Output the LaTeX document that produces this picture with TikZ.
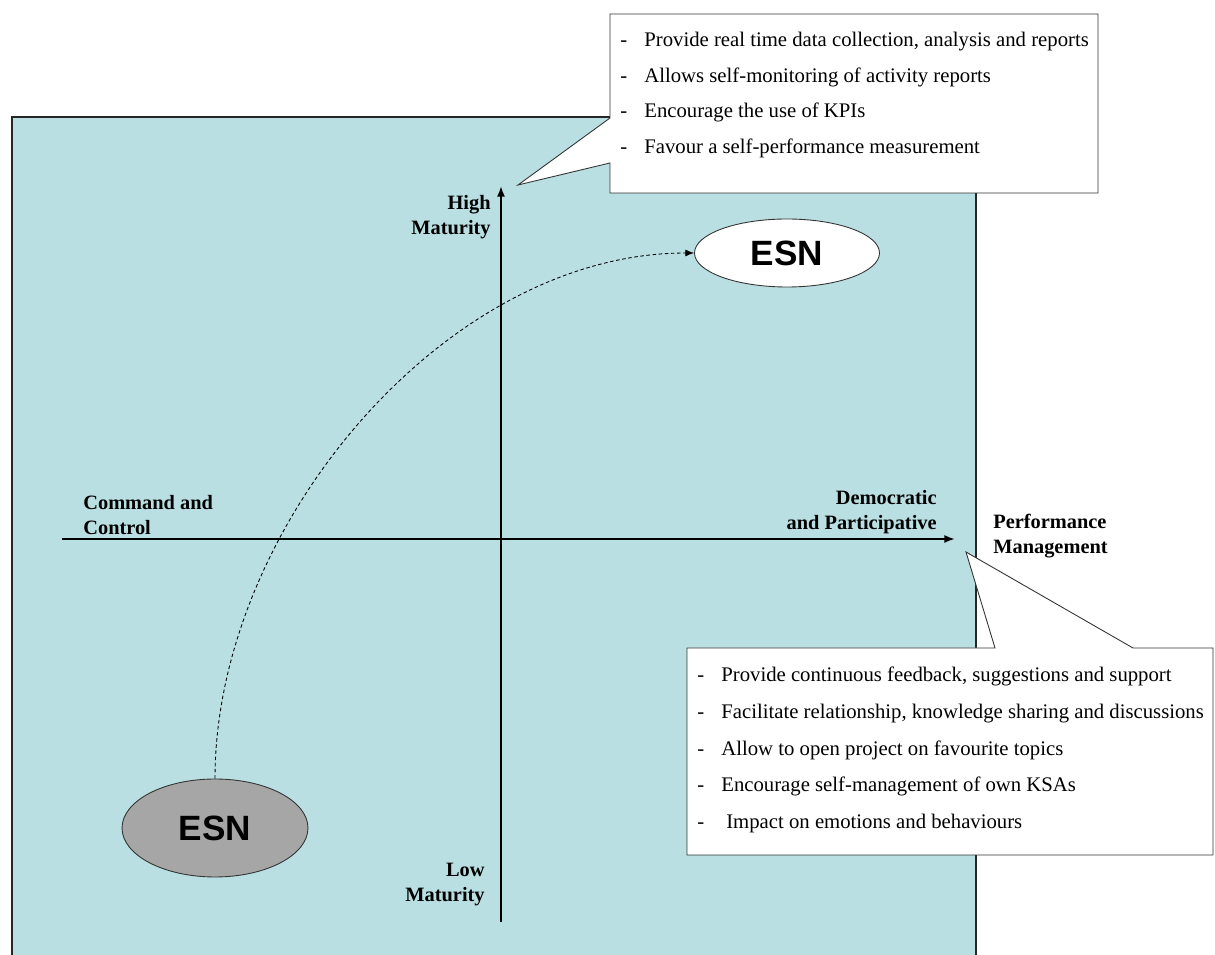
\documentclass[tikz,border=0pt]{standalone}
\usepackage{fontspec}
\setmainfont{Liberation Serif}
\newfontfamily\esnfont{Liberation Sans}
\usetikzlibrary{arrows.meta,positioning,shapes.geometric}
\definecolor{quadblue}{HTML}{B9DFE2}
\definecolor{esngray}{HTML}{A6A6A6}
\newcommand\dashitem{\makebox[0.48cm][l]{-}}

\begin{document}
\begin{tikzpicture}[x=0.02cm,y=-0.02cm,
    axis/.style={line width=1.1pt,-{Latex[length=6pt,width=4.5pt]}},
    axislabel/.style={font=\fontsize{11.6}{14.2}\selectfont\bfseries,inner sep=0pt},
    notebox/.style={draw=black!80,line width=0.5pt,fill=white},
    notetext/.style={font=\fontsize{11.8}{#1}\selectfont,inner sep=0pt,align=left},
    esn/.style={ellipse,draw=black!80,line width=0.5pt,inner sep=0pt,font=\esnfont\fontsize{20}{24}\selectfont\bfseries}]
    \useasboundingbox (0,0) rectangle (1215,955);
    % quadrant background
    \draw[black!85,line width=0.6pt,fill=quadblue] (12,117) rectangle (976,958);
    % axes
    \coordinate (vbottom) at (501,922);
    \coordinate (vtop) at (501,186);
    \coordinate (hleft) at (62,539);
    \coordinate (hright) at (955,539);
    \draw[axis] (vbottom) -- (vtop);
    \draw[axis] (hleft) -- (hright);
    \node[axislabel,align=right,anchor=east] (high) at (491,217) {High\\Maturity};
    \node[axislabel,align=right,anchor=east] (low) at (485,885) {Low\\Maturity};
    \node[axislabel,align=left,anchor=west] (command) at (83,515) {Command and\\Control};
    \node[axislabel,align=right,anchor=east] (democratic) at (937,512) {Democratic\\and Participative};
    \node[axislabel,align=left,anchor=west] (perf) at (993,536) {Performance\\Management};
    % ESN ellipses
    \node[esn,fill=white,minimum width=3.7cm,minimum height=1.36cm] (highesn) at (787,253) {ESN};
    \node[esn,fill=esngray,minimum width=3.72cm,minimum height=1.96cm] (lowesn) at (215,828) {ESN};
    \draw[dashed,dash pattern=on 2pt off 1.5pt,line width=0.5pt,-{Latex[length=5pt,width=4pt]}]
      (lowesn.north) .. controls +(0,-250) and +(-250,0) .. (highesn.west);
    % callouts
    \coordinate (toptip) at (518,185);
    \coordinate (bottip) at (966,552);
    \draw[notebox] (610,14) -- (1098,14) -- (1098,193) -- (610,193) -- (610,163)
      -- (toptip) -- (610,118) -- cycle;
    \draw[notebox] (687,648) -- (995,648) -- (bottip) -- (1133,648) -- (1213,648)
      -- (1213,855) -- (687,855) -- cycle;
    \node[notetext=20.3,anchor=west] (topnote) at (620,95)
      {\dashitem Provide real time data collection, analysis and reports\\
       \dashitem Allows self-monitoring of activity reports\\
       \dashitem Encourage the use of KPIs\\
       \dashitem Favour a self-performance measurement};
    \node[notetext=20.9,anchor=west] (botnote) at (697,750)
      {\dashitem Provide continuous feedback, suggestions and support\\
       \dashitem Facilitate relationship, knowledge sharing and discussions\\
       \dashitem Allow to open project on favourite topics\\
       \dashitem Encourage self-management of own KSAs\\
       \dashitem\hspace{0.1cm}Impact on emotions and behaviours};
\end{tikzpicture}
\end{document}
